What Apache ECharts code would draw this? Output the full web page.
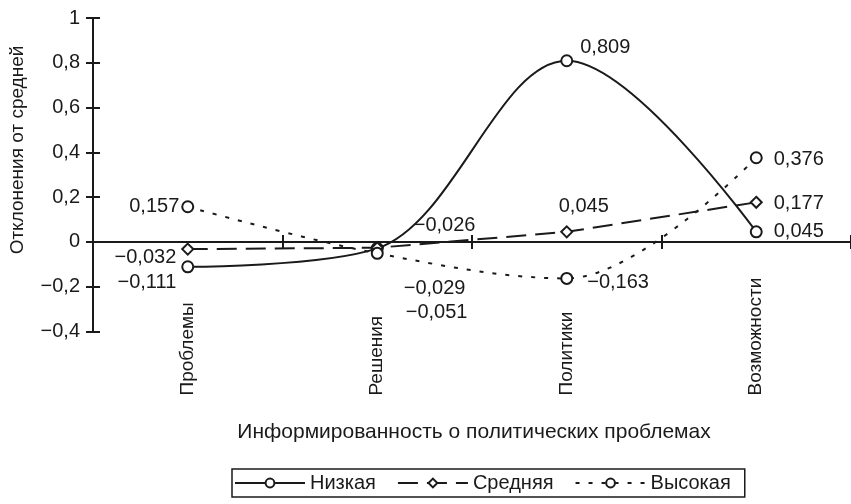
<!DOCTYPE html>
<html><head><meta charset="utf-8">
<script src="https://cdn.jsdelivr.net/npm/echarts@6/dist/echarts.min.js"></script>
<style>html,body{margin:0;padding:0;background:#fff}#c{width:851px;height:504px}</style>
</head><body><div id="c"></div>
<script>
const categories = ['Проблемы', 'Решения', 'Политики', 'Возможности'];
const lowValues = [-0.111, -0.029, 0.809, 0.045];
const midValues = [-0.032, -0.026, 0.045, 0.177];
const highValues = [0.157, -0.051, -0.163, 0.376];
const seriesNames = ['Низкая', 'Средняя', 'Высокая'];
const yTicks = { min: -0.4, max: 1, interval: 0.2 };
const xTitle = 'Информированность о политических проблемах';
const yTitle = 'Отклонения от средней';

// label placement (style only)
const lowLabelPos = [['left', [0, 16]], ['right', [15, 40]], ['right', [2, -13]], ['right', [6, 0]]];
const midLabelPos = [['left', [0, 8]], ['right', [25, -22]], ['top', [17, -4]], ['right', [6, 1]]];
const highLabelPos = [['left', [3, 0]], ['right', [17, 59]], ['right', [9, 4]], ['right', [6, 2]]];

const INK = '#1a1a1a';
const FONT = 'Liberation Sans, Arial, sans-serif';
const fmt = v => {
  const r = Math.round(v * 1000) / 1000;
  return String(r).replace('.', ',').replace('-', '\u2212');
};
const buildData = (vals, pos) => vals.map((v, i) => ({
  value: v,
  label: { show: true, position: pos[i][0], offset: pos[i][1] }
}));

const chart = echarts.init(document.getElementById('c'), null, { renderer: 'canvas' });
const baseSeries = (name, vals, pos, symbol, dash, smooth) => ({
  name, type: 'line', data: buildData(vals, pos), smooth,
  symbol, symbolSize: 11,
  lineStyle: { color: INK, width: 2, type: dash },
  itemStyle: { color: '#fff', borderColor: INK, borderWidth: 2 },
  label: { color: INK, fontSize: 20, fontFamily: FONT, formatter: p => fmt(p.value), distance: 5 },
  emphasis: { disabled: true },
  z: 3
});

chart.setOption({
  animation: false,
  backgroundColor: '#fff',
  grid: { left: 93, right: -5, top: 18, bottom: 172.5, containLabel: false },
  xAxis: [{
    type: 'category', data: categories, boundaryGap: true,
    axisLine: { onZero: true, lineStyle: { color: INK, width: 2 } },
    axisTick: { show: true, inside: false, length: 7, lineStyle: { color: INK, width: 2 } },
    axisLabel: { rotate: 90, margin: 64, align: 'left', verticalAlign: 'middle', color: INK, fontSize: 19, fontFamily: FONT },
    splitLine: { show: false }
  }, {
    type: 'category', data: categories, boundaryGap: true, position: 'bottom',
    axisLine: { show: false, onZero: true },
    axisTick: { show: true, inside: true, length: 7, lineStyle: { color: INK, width: 2 } },
    axisLabel: { show: false }, splitLine: { show: false }
  }],
  yAxis: [{
    type: 'value', min: yTicks.min, max: yTicks.max, interval: yTicks.interval,
    axisLine: { show: true, lineStyle: { color: INK, width: 2 } },
    axisTick: { show: true, inside: false, length: 7, lineStyle: { color: INK, width: 2 } },
    axisLabel: { margin: 13, color: INK, fontSize: 20, fontFamily: FONT,
      formatter: v => String(Math.round(v * 10) / 10).replace('.', ',').replace('-', '\u2212') },
    splitLine: { show: false }
  }, {
    type: 'value', min: yTicks.min, max: yTicks.max, interval: yTicks.interval, position: 'left',
    axisLine: { show: false },
    axisTick: { show: true, inside: true, length: 7, lineStyle: { color: INK, width: 2 } },
    axisLabel: { show: false }, splitLine: { show: false }
  }],
  legend: {
    left: 232, top: 469, orient: 'horizontal',
    data: seriesNames,
    itemWidth: 70, itemHeight: 11, itemGap: 21,
    padding: [4, 14, 4, 2],
    borderColor: INK, borderWidth: 1.5, borderRadius: 0,
    textStyle: { color: INK, fontSize: 20, fontFamily: FONT },
    selectedMode: false
  },
  graphic: [
    { type: 'text', x: 474, y: 432, style: { text: xTitle, fill: INK, font: '21px ' + FONT, textAlign: 'center', textVerticalAlign: 'middle' } },
    { type: 'text', x: 18, y: 150, rotation: Math.PI / 2, style: { text: yTitle, fill: INK, font: '19px ' + FONT, textAlign: 'center', textVerticalAlign: 'middle' } }
  ],
  series: [
    baseSeries(seriesNames[0], lowValues, lowLabelPos, 'circle', 'solid', 0.35),
    baseSeries(seriesNames[1], midValues, midLabelPos, 'diamond', [20, 9], false),
    baseSeries(seriesNames[2], highValues, highLabelPos, 'circle', [4, 9], 0.35)
  ]
});
</script></body></html>
